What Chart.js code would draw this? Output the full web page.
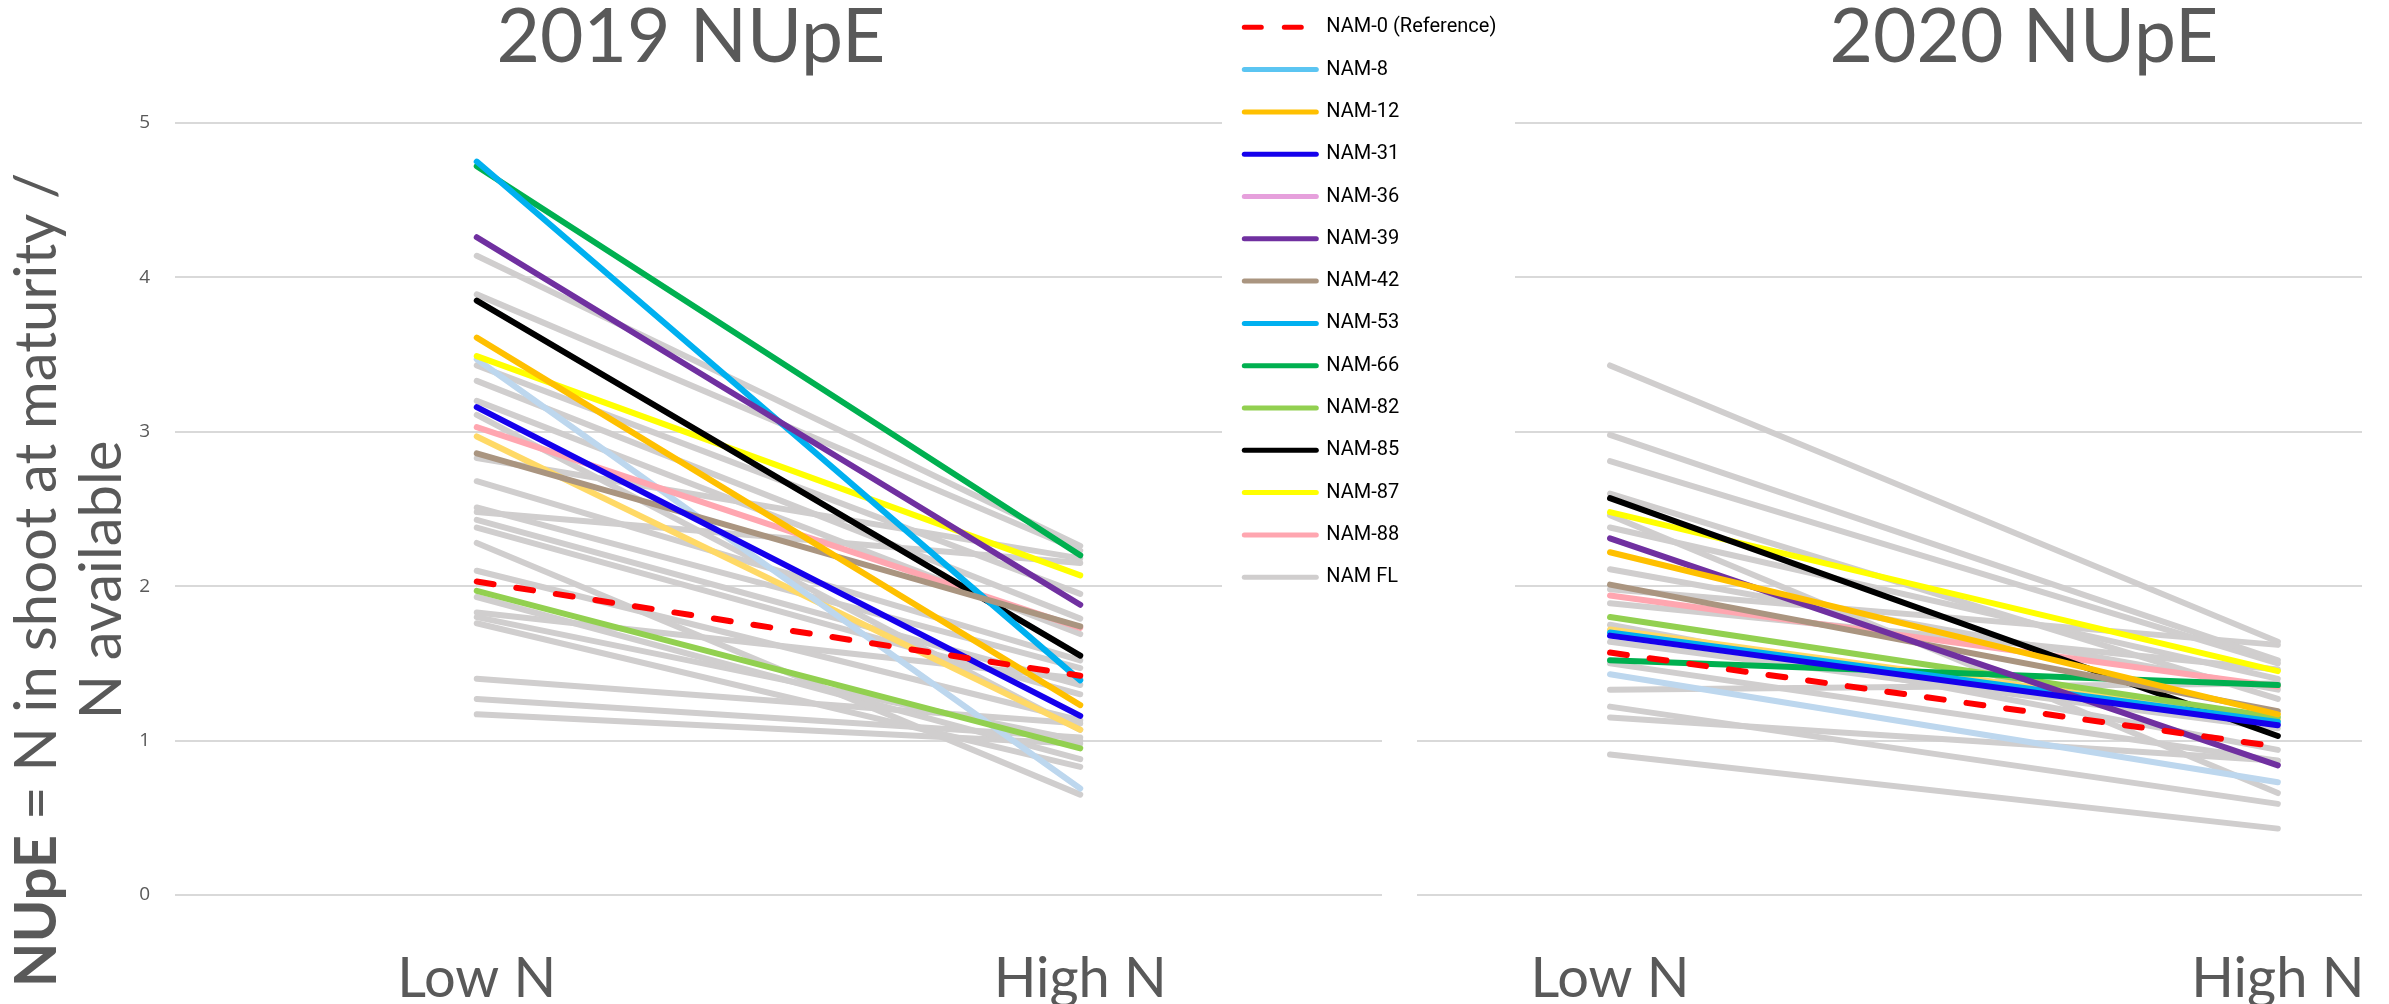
<!DOCTYPE html>
<html>
<head>
<meta charset="utf-8">
<title>NUpE 2019 / 2020</title>
<script src="https://cdn.jsdelivr.net/npm/chart.js@4.4.1/dist/chart.umd.min.js"></script>
<style>
  html, body { margin: 0; padding: 0; background: #fff; overflow: hidden; }
  #wrap { position: relative; width: 2389px; height: 1004px; overflow: hidden; }
  #wrap canvas { position: absolute; display: block; }
  #c2019 { left: 0; top: 0; }
  #c2020 { left: 1417px; top: 0; }
  #cLegend { left: 1222px; top: -5px; background: #fff; }
</style>
</head>
<body>
<div id="wrap">
  <canvas id="c2019" width="1382" height="1004"></canvas>
  <canvas id="c2020" width="1214" height="1004"></canvas>
  <canvas id="cLegend" width="293" height="625"></canvas>
</div>
<script>
const categories = ['Low N', 'High N'];

// lines that get a legend entry
const lineNames = ['NAM-0 (Reference)', 'NAM-8', 'NAM-12', 'NAM-31', 'NAM-36', 'NAM-39', 'NAM-42',
  'NAM-53', 'NAM-66', 'NAM-82', 'NAM-85', 'NAM-87', 'NAM-88'];
const lineColors = ['#FF0000', '#5BC5F2', '#FFC000', '#1500EC', '#E6A0DC', '#7030A0', '#AA9580',
  '#00B0F0', '#00B050', '#92D050', '#000000', '#FFFF00', '#FFA6B0'];

// [Low N, High N] per named line, null when there is nothing to plot
const named2019 = [[2.03, 1.42], null, [3.61, 1.23], [3.16, 1.16], null, [4.26, 1.88], [2.86, 1.74],
  [4.75, 1.39], [4.72, 2.20], [1.97, 0.95], [3.85, 1.55], [3.49, 2.07], [3.03, 1.73]];
const named2020 = [[1.57, 0.96], null, [2.22, 1.17], [1.68, 1.10], null, [2.31, 0.84], [2.01, 1.19],
  [1.70, 1.12], [1.52, 1.36], [1.80, 1.15], [2.57, 1.03], [2.48, 1.45], [1.94, 1.35]];

// two extra coloured lines without a legend entry
const extraColors = ['#BDD7EE', '#FFD966'];
const extra2019 = [[3.47, 0.69], [2.97, 1.07]];
const extra2020 = [[1.43, 0.73], [1.72, 1.13]];

// NAM FL lines
const flColor = '#D0CECE';
const fl2019 = [[4.14, 2.26], [3.89, 2.23], [3.43, 1.95], [3.33, 1.79], [3.20, 1.69], [3.11, 1.07],
  [2.83, 2.18], [2.68, 1.52], [2.51, 1.47], [2.48, 2.15], [2.43, 1.36], [2.38, 1.30], [2.28, 0.65],
  [2.10, 1.13], [1.93, 0.88], [1.83, 1.40], [1.80, 1.00], [1.76, 0.83], [1.40, 1.11], [1.27, 1.02],
  [1.17, 0.98]];
const fl2020 = [[3.43, 1.64], [2.98, 1.52], [2.81, 1.50], [2.60, 1.27], [2.46, 0.66], [2.38, 1.40],
  [2.11, 1.33], [1.98, 1.62], [1.89, 1.46], [1.75, 0.94], [1.64, 1.08], [1.50, 0.87], [1.33, 1.37],
  [1.22, 0.59], [1.15, 0.87], [0.91, 0.43]];

const textGrey = '#595959';
const refDash = [17, 23];

function toPoints(pair) {
  return pair.map((v, i) => ({ x: i, y: v }));
}

function lineSet(label, pair, color, order, dash) {
  return {
    label: label,
    data: pair ? toPoints(pair) : [],
    borderColor: color,
    backgroundColor: color,
    borderWidth: 6,
    borderCapStyle: 'round',
    borderDash: dash || [],
    pointRadius: 0,
    fill: false,
    order: order
  };
}

function buildDatasets(named, extra, fl) {
  const sets = [];
  named.forEach((pair, i) => sets.push(lineSet(lineNames[i], pair, lineColors[i], 0, i === 0 ? refDash : null)));
  extra.forEach((pair, i) => sets.push(lineSet('', pair, extraColors[i], 1)));
  fl.forEach(pair => sets.push(lineSet('NAM FL', pair, flColor, 2)));
  return sets;
}

// rotated y title, first word in bold
const yTitle = {
  id: 'yTitle',
  afterDraw(chart) {
    const ctx = chart.ctx;
    const cy = 580;
    const bold = '700 58px Lato';
    const normal = '400 58px Lato';
    const rest = ' = N in shoot at maturity /';
    ctx.save();
    ctx.fillStyle = textGrey;
    ctx.translate(0, cy);
    ctx.rotate(-Math.PI / 2);
    ctx.textBaseline = 'alphabetic';
    ctx.font = bold;
    const w1 = ctx.measureText('NUpE').width;
    ctx.font = normal;
    const w2 = ctx.measureText(rest).width;
    const x0 = -(w1 + w2) / 2;
    ctx.font = bold;
    ctx.fillText('NUpE', x0, 56);
    ctx.font = normal;
    ctx.fillText(rest, x0 + w1, 56);
    ctx.textAlign = 'center';
    ctx.fillText('N available', 0, 121);
    ctx.restore();
  }
};

// yPos/yWidth: side and width of the value axis; the 2020 panel keeps an empty one on its right
function panelOptions(title, xMin, xMax, yPos, yWidth, showYTicks) {
  return {
    responsive: false,
    animation: false,
    plugins: {
      legend: { display: false },
      tooltip: { enabled: false },
      title: {
        display: true,
        text: title,
        color: textGrey,
        font: { family: 'Lato', size: 75, weight: 'normal', lineHeight: 1 },
        padding: { top: 0, bottom: 48 }
      }
    },
    scales: {
      x: {
        type: 'linear',
        min: xMin,
        max: xMax,
        afterBuildTicks: s => { s.ticks = categories.map((c, i) => ({ value: i })); },
        afterFit: s => { s.height = 109; },
        grid: { display: false },
        border: { display: false },
        ticks: {
          callback: v => categories[v],
          color: textGrey,
          font: { family: 'Lato', size: 56 },
          padding: 42,
          maxRotation: 0,
          autoSkip: false
        }
      },
      y: {
        position: yPos,
        min: 0,
        max: 5,
        afterFit: s => { s.width = yWidth; },
        grid: { color: '#D9D9D9', lineWidth: 2, drawTicks: false },
        border: { display: false },
        ticks: {
          display: showYTicks,
          stepSize: 1,
          color: textGrey,
          font: { family: 'Open Sans', size: 19 },
          padding: 25
        }
      }
    }
  };
}

new Chart(document.getElementById('c2019'), {
  type: 'line',
  data: { datasets: buildDatasets(named2019, extra2019, fl2019) },
  options: panelOptions('2019 NUpE', -0.5, 1.5, 'left', 175, true),
  plugins: [yTitle]
});

new Chart(document.getElementById('c2020'), {
  type: 'line',
  data: { datasets: buildDatasets(named2020, extra2020, fl2020) },
  options: panelOptions('2020 NUpE', -0.289, 1.126, 'right', 269, false)
});

// shared legend for both panels
const legendSets = lineNames.map((name, i) => lineSet(name, null, lineColors[i], 0, i === 0 ? refDash : null));
legendSets.push(lineSet('NAM FL', null, flColor, 0));

new Chart(document.getElementById('cLegend'), {
  type: 'line',
  data: { datasets: legendSets },
  options: {
    responsive: false,
    animation: false,
    scales: { x: { display: false }, y: { display: false } },
    plugins: {
      tooltip: { enabled: false },
      legend: {
        position: 'left',
        align: 'start',
        maxWidth: 293,
        labels: {
          usePointStyle: true,
          pointStyle: 'line',
          pointStyleWidth: 72,
          boxHeight: 5,
          padding: 22.3,
          color: textGrey,
          font: { family: 'Roboto', size: 20 },
          generateLabels: chart => chart.data.datasets.map((ds, i) => ({
            text: ds.label,
            strokeStyle: ds.borderColor,
            fillStyle: ds.borderColor,
            lineWidth: 5,
            lineDash: ds.borderDash,
            lineCap: 'round',
            pointStyle: 'line',
            hidden: false,
            datasetIndex: i
          }))
        }
      }
    }
  }
});
</script>
</body>
</html>
